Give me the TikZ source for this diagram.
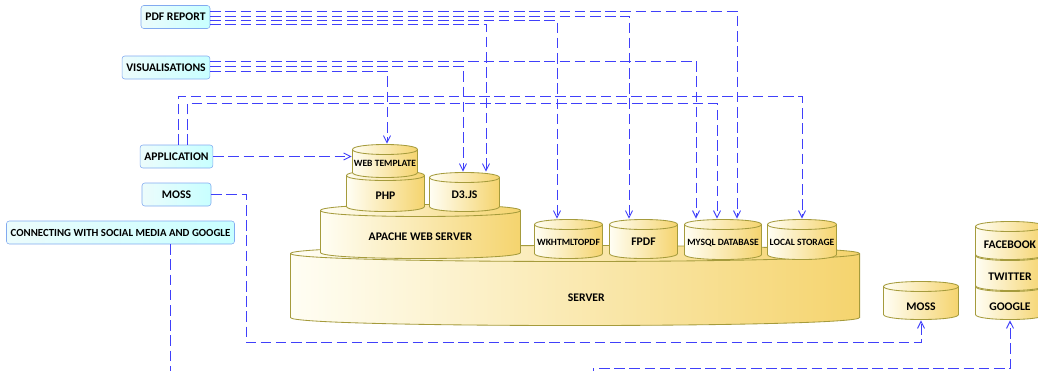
\documentclass[tikz,border=0pt]{standalone}
\usepackage{fontspec}
\setmainfont{Carlito}
\usetikzlibrary{arrows.meta, calc}
\definecolor{linkblue}{RGB}{64,64,250}
\definecolor{boxline}{RGB}{130,170,240}
\definecolor{boxleft}{RGB}{236,252,252}
\definecolor{boxright}{RGB}{200,255,255}
\definecolor{dbline}{RGB}{165,155,60}
\definecolor{dbleft}{RGB}{255,254,244}
\definecolor{dbright}{RGB}{245,212,110}
% text set lower in a cylinder, without changing its size
\newcommand\lowertext[2]{\raisebox{-#1}[0pt][0pt]{#2}}

\begin{document}
\begin{tikzpicture}[
    x=0.025cm, y=-0.025cm,
    lid/.store in=\lidry, lid=5,
    client/.style={draw=boxline, left color=boxleft, right color=boxright, rounded corners=2pt, minimum width=1.725cm, minimum height=0.575cm, inner xsep=3pt, font=\fontsize{8.3}{9}\selectfont\bfseries},
    db/.style={rectangle, inner sep=0pt, font=\fontsize{8.3}{9}\selectfont\bfseries,
        path picture={
            \coordinate (tl) at ($(path picture bounding box.north west)+(0.5,\lidry+0.5)$);
            \coordinate (bl) at ($(path picture bounding box.south west)+(0.5,-\lidry-0.5)$);
            \coordinate (br) at ($(path picture bounding box.south east)+(-0.5,-\lidry-0.5)$);
            \coordinate (tr) at ($(path picture bounding box.north east)+(-0.5,\lidry+0.5)$);
            \shade[left color=dbleft, right color=dbright, draw=dbline, line width=0.6pt]
                (tl) -- (bl) .. controls +(0,1.333*\lidry) and +(0,1.333*\lidry) .. (br)
                -- (tr) .. controls +(0,-1.333*\lidry) and +(0,-1.333*\lidry) .. (tl) -- cycle;
            \draw[dbline, line width=0.6pt] (tl) .. controls +(0,1.333*\lidry) and +(0,1.333*\lidry) .. (tr);
        }},
    small/.style={font=\fontsize{6.8}{8}\selectfont\bfseries},
    link/.style={draw=linkblue, line width=0.7pt, dash pattern=on 7.5pt off 3.3pt, -{Straight Barb[length=5pt,width=5pt]}}
]
    \useasboundingbox (0,0) rectangle (1038,370);
    \clip (0,0) rectangle (1038,370);

    % Clients
    \node[client] (pdf) at (175.5,17) {PDF REPORT};
    \node[client] (vis) at (166,67.5) {VISUALISATIONS};
    \node[client] (app) at (176.5,156.5) {APPLICATION};
    \node[client] (mossbox) at (176.5,194.5) {MOSS};
    \node[client, font=\fontsize{7.7}{9}\selectfont\bfseries] (social) at (120.5,232.5) {CONNECTING WITH SOCIAL MEDIA AND GOOGLE};

    % Server stack
    \node[db, lid=8, minimum width=14.25cm, minimum height=2.025cm] (server) at (575,285.5) {\hspace*{16pt}\lowertext{11.2pt}{SERVER}};
    \node[db, lid=6, minimum width=5.025cm, minimum height=1.375cm] (apache) at (420.5,231.5) {\lowertext{6.2pt}{APACHE WEB SERVER}};
    \node[db, minimum width=1.975cm, minimum height=1.05cm] (php) at (385.5,191) {\lowertext{6.2pt}{PHP}};
    \node[db, minimum width=1.775cm, minimum height=1cm] (d3) at (464.5,192) {\lowertext{4.8pt}{D3.JS}};
    \node[db, small, minimum width=1.65cm, minimum height=0.85cm] (webtpl) at (385,161) {\lowertext{3.6pt}{WEB TEMPLATE}};
    \node[db, small, minimum width=1.725cm, minimum height=1cm] (wk) at (568.5,239) {\lowertext{4.3pt}{WKHTMLTOPDF}};
    \node[db, minimum width=1.725cm, minimum height=1cm] (fpdf) at (643.5,239) {\lowertext{4.8pt}{FPDF}};
    \node[db, small, minimum width=1.95cm, minimum height=1.025cm] (mysql) at (723,239.5) {\lowertext{4.3pt}{MYSQL DATABASE}};
    \node[db, small, minimum width=1.75cm, minimum height=1.025cm] (local) at (802,239.5) {\lowertext{4.3pt}{LOCAL STORAGE}};

    % External services
    \node[db, minimum width=1.9cm, minimum height=0.975cm] (mosscyl) at (921,300.5) {\lowertext{6.9pt}{MOSS}};
    \node[db, minimum width=1.75cm, minimum height=0.975cm] (google) at (1010,300.5) {\lowertext{6.9pt}{GOOGLE}};
    \node[db, minimum width=1.75cm, minimum height=1.025cm] (twitter) at (1010,270.5) {\lowertext{7.2pt}{TWITTER}};
    \node[db, minimum width=1.75cm, minimum height=0.975cm] (facebook) at (1010,240.5) {\lowertext{5.8pt}{FACEBOOK}};

    % Connections
    \draw[link] ($(pdf.east)+(0,-6)$) -| ($(mysql.north)+(14,0)$);
    \draw[link] ($(pdf.east)+(0,-1)$) -| ($(fpdf.north)+(-14.5,0)$);
    \draw[link] ($(pdf.east)+(0,3)$) -| ($(wk.north)+(-11.5,0)$);
    \draw[link] ($(pdf.east)+(0,7)$) -| ($(d3.north)+(21.5,0)$);
    \draw[link] ($(vis.east)+(0,-6.5)$) -| ($(mysql.north)+(-27,0)$);
    \draw[link] ($(vis.east)+(0,-1.5)$) -| ($(d3.north)+(-1.5,0)$);
    \draw[link] ($(vis.east)+(0,3.5)$) -| ($(webtpl.north)+(2,0)$);
    \draw[link] ($(app.north)+(1.5,0)$) -- ++(0,-48) -| (local.north);
    \draw[link] ($(app.north)+(10.5,0)$) -- ++(0,-41) -| ($(mysql.north)+(-6,0)$);
    \draw[link] (app.east) -- (app.east -| webtpl.west);
    \draw[link] (mossbox.east) -| ++(35,148) -| (mosscyl.south);
    \draw[link] ($(social.south)+(49.5,0)$) -- ++(0,136) -| ++(423,-12) -| (google.south);
\end{tikzpicture}
\end{document}
